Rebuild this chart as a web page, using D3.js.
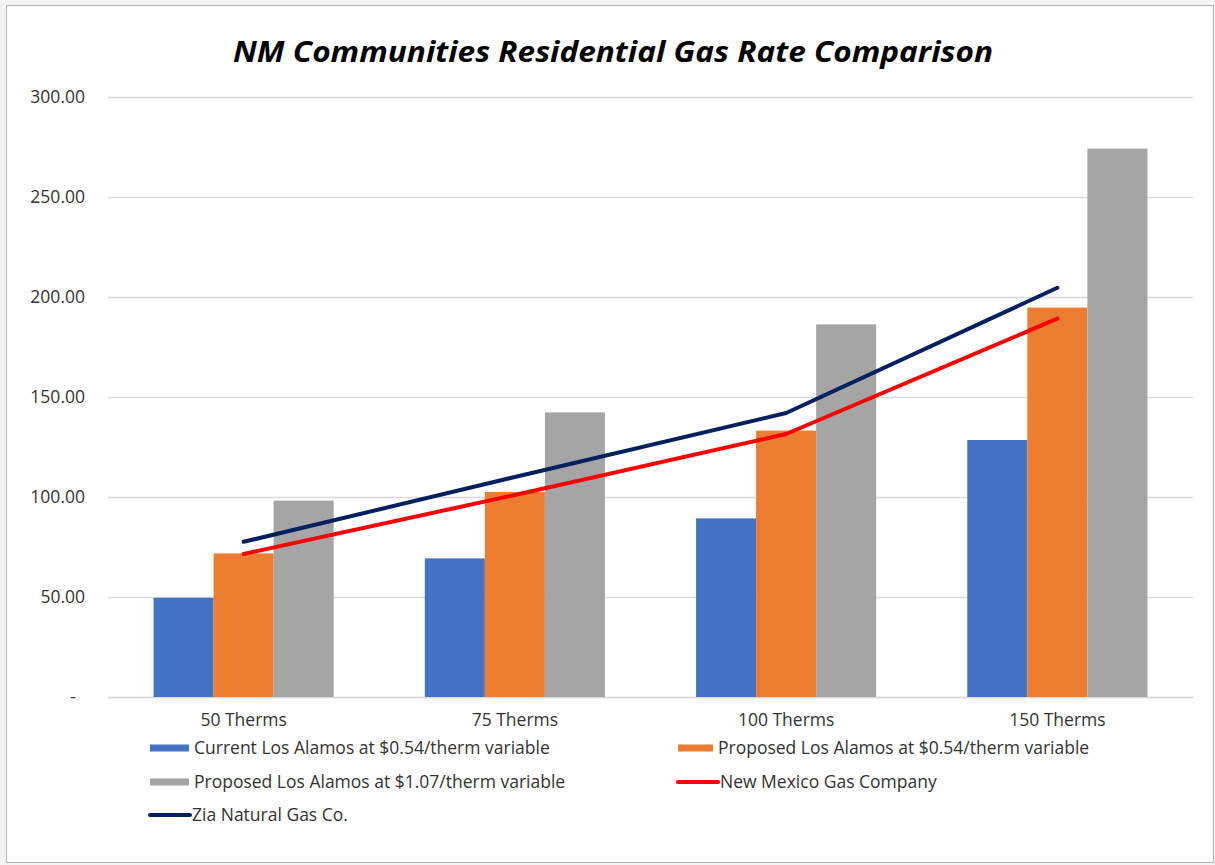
<!DOCTYPE html>
<html>
<head>
<meta charset="utf-8">
<script src="https://cdn.jsdelivr.net/npm/d3@7"></script>
<style>
  body { margin: 0; background: #ffffff; }
  svg { display: block; font-family: "Open Sans", "Liberation Sans", sans-serif; }
</style>
</head>
<body>
<svg id="chart" width="1215" height="865"></svg>
<script>
const categories = ["50 Therms", "75 Therms", "100 Therms", "150 Therms"];

const currentLA054 = [49.6, 69.3, 89.3, 128.5];
const proposedLA054 = [71.8, 102.5, 133.2, 194.7];
const proposedLA107 = [98.2, 142.3, 186.3, 274.2];
const nmGasCo = [71.5, 101.0, 131.5, 189.2];
const ziaGas = [77.6, 110.0, 142.0, 204.6];

const yTicks = [0, 50, 100, 150, 200, 250, 300];

const barSeries = [
  { name: "Current Los Alamos at $0.54/therm variable", values: currentLA054, color: "#4472C4" },
  { name: "Proposed Los Alamos at $0.54/therm variable", values: proposedLA054, color: "#ED7D31" },
  { name: "Proposed Los Alamos at $1.07/therm variable", values: proposedLA107, color: "#A5A5A5" }
];
const lineSeries = [
  { name: "New Mexico Gas Company", values: nmGasCo, color: "#FF0000" },
  { name: "Zia Natural Gas Co.", values: ziaGas, color: "#002060" }
];

const svg = d3.select("#chart");

// frame with a soft edge like the pasted excel chart
svg.append("rect")
  .attr("x", 0).attr("y", 0).attr("width", 1215).attr("height", 865)
  .attr("fill", "#f4f4f4");
svg.append("rect")
  .attr("x", 6.5).attr("y", 5.5).attr("width", 1207).attr("height", 857)
  .attr("fill", "#ffffff")
  .attr("stroke", "#b4b4b4")
  .attr("stroke-width", 1);

const margin = { top: 97, left: 108, right: 22, bottom: 168 };
const width = 1215 - margin.left - margin.right;
const height = 865 - margin.top - margin.bottom;

const g = svg.append("g")
  .attr("transform", `translate(${margin.left},${margin.top})`);

const x = d3.scaleBand()
  .domain(categories)
  .range([0, width])
  .paddingInner(0.336)
  .paddingOuter(0.168);

const xSub = d3.scaleBand()
  .domain(barSeries.map(d => d.name))
  .range([0, x.bandwidth()]);

const y = d3.scaleLinear()
  .domain([0, 300])
  .range([height, 0]);

// gridlines
const grid = g.append("g")
  .call(d3.axisLeft(y).tickValues(yTicks).tickSize(-width).tickFormat(""));
grid.select(".domain").remove();
grid.selectAll("line")
  .attr("stroke", "#d9d9d9")
  .attr("stroke-width", 1.5);

// y axis labels
const yAxis = g.append("g")
  .call(d3.axisLeft(y).tickValues(yTicks).tickSize(0).tickPadding(23)
    .tickFormat(d => d === 0 ? "-" : d3.format(".2f")(d)));
yAxis.select(".domain").remove();
yAxis.selectAll("text")
  .attr("fill", "#333333")
  .attr("dx", d => d === 0 ? -9 : 0)
  .style("font-size", "17.5px")
  .style("font-family", "'Open Sans', sans-serif");

// x axis labels
const xAxis = g.append("g")
  .attr("transform", `translate(0,${height})`)
  .call(d3.axisBottom(x).tickSize(0).tickPadding(17));
xAxis.select(".domain").attr("stroke", "#d9d9d9").attr("stroke-width", 1.5);
xAxis.selectAll("text")
  .attr("fill", "#333333")
  .style("font-size", "17.5px")
  .style("font-family", "'Open Sans', sans-serif");

// bars
const groups = g.selectAll(".series")
  .data(barSeries)
  .enter()
  .append("g")
  .attr("fill", d => d.color);

groups.selectAll("rect")
  .data(s => s.values.map((v, i) => ({ key: s.name, cat: categories[i], value: v })))
  .enter()
  .append("rect")
  .attr("x", d => x(d.cat) + xSub(d.key))
  .attr("width", xSub.bandwidth())
  .attr("y", d => y(d.value))
  .attr("height", d => y(0) - y(d.value));

// lines
const line = d3.line()
  .x((d, i) => x(categories[i]) + x.bandwidth() / 2)
  .y(d => y(d));

g.selectAll(".trend")
  .data(lineSeries)
  .enter()
  .append("path")
  .attr("fill", "none")
  .attr("stroke", d => d.color)
  .attr("stroke-width", 4)
  .attr("stroke-linecap", "round")
  .attr("stroke-linejoin", "round")
  .attr("d", d => line(d.values));

// title
svg.append("text")
  .attr("x", 613)
  .attr("y", 62)
  .attr("text-anchor", "middle")
  .attr("fill", "#000000")
  .style("font-size", "29px")
  .style("font-weight", "bold")
  .style("font-style", "italic")
  .style("font-family", "'Open Sans', sans-serif")
  .attr("textLength", 760)
  .attr("lengthAdjust", "spacingAndGlyphs")
  .text("NM Communities Residential Gas Rate Comparison");

// legend
const legendItems = [
  { s: barSeries[0], type: "bar", x: 150, y: 748 },
  { s: barSeries[1], type: "bar", x: 678, y: 748 },
  { s: barSeries[2], type: "bar", x: 150, y: 782 },
  { s: lineSeries[0], type: "line", x: 676, y: 782 },
  { s: lineSeries[1], type: "line", x: 148, y: 815 }
];

const legend = svg.append("g");
legendItems.forEach(item => {
  const lg = legend.append("g").attr("transform", `translate(${item.x},${item.y})`);
  if (item.type === "bar") {
    lg.append("rect")
      .attr("x", 0).attr("y", -3.5)
      .attr("width", item.x > 600 ? 35 : 39).attr("height", 7)
      .attr("fill", item.s.color);
  } else {
    lg.append("line")
      .attr("x1", 2).attr("x2", 42)
      .attr("y1", 0).attr("y2", 0)
      .attr("stroke", item.s.color)
      .attr("stroke-width", 4)
      .attr("stroke-linecap", "round");
  }
  lg.append("text")
    .attr("x", item.type === "bar" ? (item.x > 600 ? 40 : 44) : 44)
    .attr("y", 0)
    .attr("dy", "0.35em")
    .attr("fill", "#333333")
    .style("font-size", "17.5px")
    .style("font-family", "'Open Sans', sans-serif")
    .text(item.s.name);
});
</script>
</body>
</html>
